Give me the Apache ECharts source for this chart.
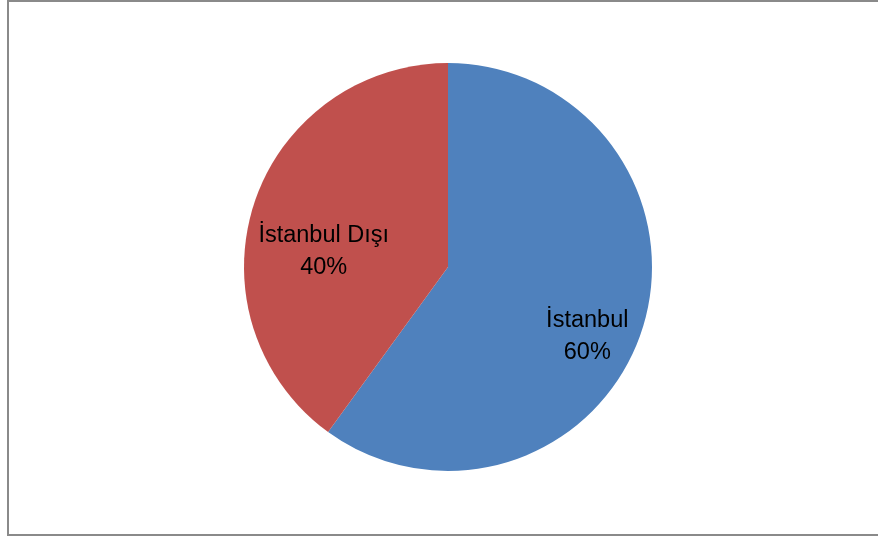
<!DOCTYPE html>
<html>
<head>
<meta charset="utf-8">
<script src="https://cdn.jsdelivr.net/npm/echarts@6/dist/echarts.min.js"></script>
<style>
html,body{margin:0;padding:0;background:#fff;overflow:hidden;}
#frame{position:absolute;left:7px;top:0px;width:885px;height:532px;border:2px solid #8a8a8a;box-sizing:content-box;}
#chart{position:absolute;left:0;top:0;width:878px;height:538px;}
</style>
</head>
<body>
<div id="frame"></div>
<div id="chart"></div>
<script>
var categories = ['İstanbul', 'İstanbul Dışı'];
var values = [60, 40];
var colors = ['#4F81BD', '#C0504D'];

var chart = echarts.init(document.getElementById('chart'), null, {renderer: 'canvas'});
var labelOffsets = [[-11, 21], [26, 33]];

var baseData = categories.map(function (c, i) {
  return { name: c, value: values[i], itemStyle: { color: colors[i] } };
});
var labelData = categories.map(function (c, i) {
  return { name: c, value: values[i], label: { offset: labelOffsets[i] } };
});

chart.setOption({
  animation: false,
  series: [
    {
      type: 'pie',
      center: [448, 267],
      radius: [0, 204],
      startAngle: 90,
      clockwise: true,
      label: { show: false },
      labelLine: { show: false },
      silent: true,
      itemStyle: { borderWidth: 0 },
      data: baseData
    },
    {
      type: 'pie',
      center: [448, 267],
      radius: [106, 204],
      startAngle: 90,
      clockwise: true,
      silent: true,
      itemStyle: { color: 'rgba(0,0,0,0)', borderWidth: 0 },
      label: {
        show: true,
        position: 'inside',
        formatter: '{b}\n{d}%',
        color: '#000',
        fontFamily: 'Liberation Sans, Arial, sans-serif',
        fontSize: 23.5,
        lineHeight: 32,
        align: 'center'
      },
      labelLine: { show: false },
      data: labelData
    }
  ]
});
</script>
</body>
</html>
